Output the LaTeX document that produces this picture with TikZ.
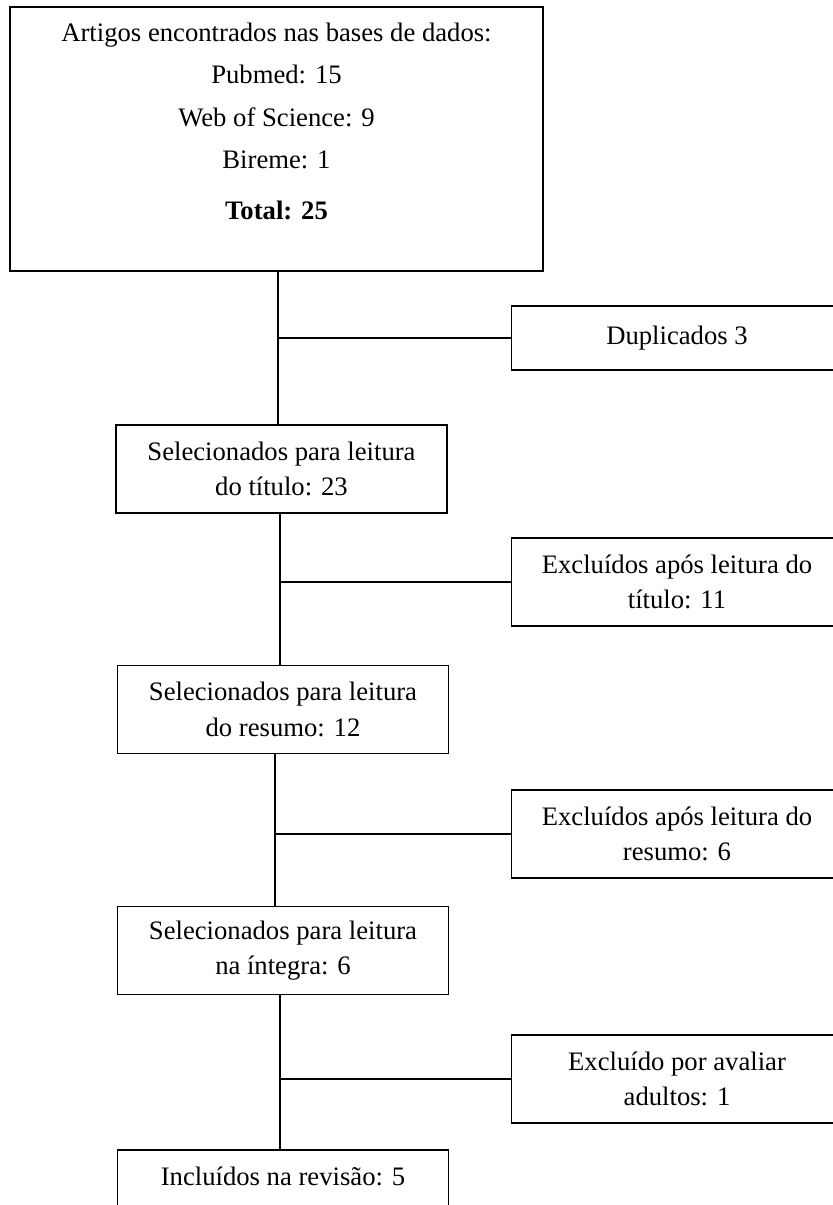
\documentclass[tikz,border=0pt]{standalone}
\usepackage{fontspec}
\setmainfont{Liberation Serif}
\usetikzlibrary{positioning}
\newcommand{\px}{0.45pt}
\tikzset{
  etapa/.style={draw, line width=0.7pt, align=center, inner sep=0pt,
    minimum width=331*\px, minimum height=88*\px,
    font=\fontsize{12}{16}\selectfont},
  liga/.style={line width=0.7pt},
}
\begin{document}
\begin{tikzpicture}[x=\px, y=-\px]
\useasboundingbox (0,0) rectangle (832,1205);

% caixa inicial
\node[etapa, minimum width=533*\px, minimum height=264*\px] (bases) at (276.5,139)
  {Artigos encontrados nas bases de dados:\\[3pt] Pubmed: 15\\[3pt] Web of Science: 9\\[3pt] Bireme: 1\\[7pt] \textbf{Total: 25}\\ ~};

% coluna da esquerda
\node[etapa] (titulo) at (281.5,469) {Selecionados para leitura\\do título: 23};
\node[etapa] (resumo) at (283,709.5) {Selecionados para leitura\\do resumo: 12};
\node[etapa] (integra) at (283,950.5) {Selecionados para leitura\\na íntegra: 6};
\node[etapa] (incluidos) at (283,1194) {Incluídos na revisão: 5\\ ~};

% coluna da direita
\node[etapa, minimum height=64*\px] (dup) at (677,338) {Duplicados 3};
\node[etapa] (exc1) at (677,582) {Excluídos após leitura do\\título: 11};
\node[etapa] (exc2) at (677,834) {Excluídos após leitura do\\resumo: 6};
\node[etapa] (exc3) at (677,1079) {Excluído por avaliar\\adultos: 1};

% linhas
\coordinate (t1) at (278,0);
\coordinate (t2) at (280,0);
\coordinate (t3) at (275,0);
\coordinate (t4) at (280,0);
\draw[liga] (bases.south -| t1) -- (titulo.north -| t1);
\draw[liga] (dup.west) -- (dup.west -| t1);
\draw[liga] (titulo.south -| t2) -- (resumo.north -| t2);
\draw[liga] (exc1.west) -- (exc1.west -| t2);
\draw[liga] (resumo.south -| t3) -- (integra.north -| t3);
\draw[liga] (exc2.west) -- (exc2.west -| t3);
\draw[liga] (integra.south -| t4) -- (incluidos.north -| t4);
\draw[liga] (exc3.west) -- (exc3.west -| t4);
\end{tikzpicture}
\end{document}
